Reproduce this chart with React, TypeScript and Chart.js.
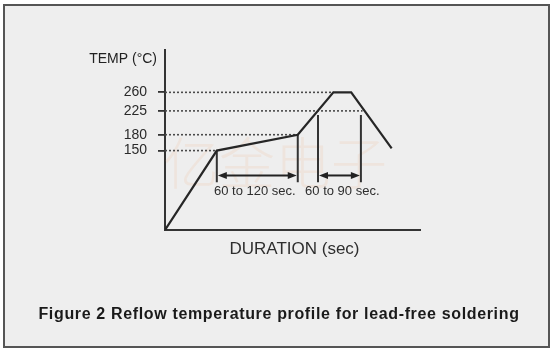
import React, { useEffect, useRef } from "react";
import { Chart, registerables } from "chart.js";

Chart.register(...registerables);

// Reflow profile (time in sec, temperature in °C)
const profileTime = [0, 64, 164, 208, 230, 280];
const profileTemp = [0, 150, 180, 260, 260, 154];

// Y tick labels and dotted reference lines
const yTicks = [150, 180, 225, 260];
const dottedEnds = [64, 164, 244, 208];

// Vertical marker lines
const markerTimes = [64, 164, 189, 242];
const markerTops = [150, 180, 217, 217];
const markerBottom = 90;

// Duration spans
const spanLabels = ["60 to 120 sec.", "60 to 90 sec."];
const spanFrom = [64, 189];
const spanTo = [164, 242];
const arrowTemp = 103;
const labelTimes = [111, 219];
const labelTemp = 72;

const yAxisTitle = "TEMP (°C)";
const xAxisTitle = "DURATION (sec)";
const caption = "Figure 2 Reflow temperature profile for lead-free soldering";
const watermark = "亿金电子";

const FONT = "'Liberation Sans', Arial, Helvetica, sans-serif";

export default function App() {
  const ref = useRef<HTMLCanvasElement | null>(null);

  useEffect(() => {
    document.body.style.margin = "0";
    const canvas = ref.current;
    if (!canvas) return;

    const datasets: any[] = [];
    datasets.push({
      label: "profile",
      data: profileTime.map((t, i) => ({ x: t, y: profileTemp[i] })),
      borderColor: "#262626",
      borderWidth: 2.2,
      pointRadius: 0,
      tension: 0,
      order: 0,
    });
    yTicks.forEach((v, i) => {
      datasets.push({
        label: "ref" + v,
        data: [
          { x: 0, y: v },
          { x: dottedEnds[i], y: v },
        ],
        borderColor: "#4a4a4a",
        borderWidth: 1.6,
        borderDash: [2, 2],
        pointRadius: 0,
        order: 2,
      });
    });
    markerTimes.forEach((t, i) => {
      datasets.push({
        label: "marker" + i,
        data: [
          { x: t, y: markerTops[i] },
          { x: t, y: markerBottom },
        ],
        borderColor: "#333",
        borderWidth: 2,
        pointRadius: 0,
        order: 1,
      });
    });

    const annot = {
      id: "annot",
      beforeDatasetsDraw(chart: any) {
        const ctx = chart.ctx;
        const xs = chart.scales.x;
        const ys = chart.scales.y;
        ctx.save();
        ctx.fillStyle = "rgba(238,170,120,0.14)";
        ctx.font = "300 56px 'Noto Sans CJK SC', sans-serif";
        ctx.textAlign = "center";
        ctx.textBaseline = "middle";
        ctx.fillText(watermark, xs.getPixelForValue(136), ys.getPixelForValue(128));
        ctx.restore();
      },
      afterDatasetsDraw(chart: any) {
        const ctx = chart.ctx;
        const xs = chart.scales.x;
        const ys = chart.scales.y;
        ctx.save();
        // arrows
        ctx.strokeStyle = "#222";
        ctx.fillStyle = "#222";
        ctx.lineWidth = 2;
        const y = ys.getPixelForValue(arrowTemp);
        spanFrom.forEach((f, i) => {
          const x1 = xs.getPixelForValue(f) + 1;
          const x2 = xs.getPixelForValue(spanTo[i]) - 1;
          ctx.beginPath();
          ctx.moveTo(x1 + 6, y);
          ctx.lineTo(x2 - 6, y);
          ctx.stroke();
          ctx.beginPath();
          ctx.moveTo(x1, y);
          ctx.lineTo(x1 + 9, y - 3.5);
          ctx.lineTo(x1 + 9, y + 3.5);
          ctx.closePath();
          ctx.fill();
          ctx.beginPath();
          ctx.moveTo(x2, y);
          ctx.lineTo(x2 - 9, y - 3.5);
          ctx.lineTo(x2 - 9, y + 3.5);
          ctx.closePath();
          ctx.fill();
        });
        // span labels
        ctx.fillStyle = "#2e2e2e";
        ctx.font = `13px ${FONT}`;
        ctx.textAlign = "center";
        ctx.textBaseline = "middle";
        spanLabels.forEach((s, i) => {
          ctx.fillText(s, xs.getPixelForValue(labelTimes[i]), ys.getPixelForValue(labelTemp));
        });
        // axis titles
        ctx.font = `14px ${FONT}`;
        ctx.textAlign = "right";
        ctx.fillStyle = "#222";
        ctx.fillText(yAxisTitle, xs.left - 8, ys.top + 9);
        ctx.font = `17px ${FONT}`;
        ctx.textAlign = "center";
        ctx.fillStyle = "#2e2e2e";
        ctx.fillText(xAxisTitle, (xs.left + xs.right) / 2 + 2, ys.bottom + 19);
        // caption
        ctx.font = `bold 16px ${FONT}`;
        ctx.fillStyle = "#1a1a1a";
        (ctx as any).letterSpacing = "0.65px";
        ctx.fillText(caption, 279, 315);
        ctx.restore();
      },
    };

    const chart = new Chart(canvas, {
      type: "line",
      data: { datasets },
      options: {
        animation: false,
        responsive: false,
        maintainAspectRatio: false,
        layout: { padding: { left: 0, top: 50, right: 140, bottom: 126 } },
        plugins: {
          legend: { display: false },
          tooltip: { enabled: false },
          title: { display: false },
        },
        scales: {
          x: {
            type: "linear",
            min: 0,
            max: 315,
            ticks: { display: false },
            grid: { display: false },
            border: { display: true, color: "#333", width: 2 },
            afterFit: (s: any) => {
              s.height = 0;
            },
          },
          y: {
            type: "linear",
            min: 0,
            max: 340,
            afterBuildTicks: (s: any) => {
              s.ticks = yTicks.map((v) => ({ value: v }));
            },
            ticks: {
              color: "#2a2a2a",
              font: { family: FONT, size: 14 },
              padding: 11,
            },
            grid: {
              display: true,
              drawOnChartArea: false,
              drawTicks: true,
              tickLength: 7,
              color: "#333",
              lineWidth: 1.8,
            },
            border: { display: true, color: "#333", width: 2 },
            afterFit: (s: any) => {
              s.width = 165;
            },
          },
        },
      },
      plugins: [annot],
    });

    return () => chart.destroy();
  }, []);

  return (
    <div style={{ position: "relative", width: 560, height: 356, background: "#fff" }}>
      <div
        style={{
          position: "absolute",
          left: 3,
          top: 4,
          width: 547,
          height: 344,
          border: "2px solid #555",
          background: "#eeeeee",
          boxSizing: "border-box",
        }}
      />
      <canvas
        ref={ref}
        width={560}
        height={356}
        style={{ position: "absolute", left: 0, top: 0, width: 560, height: 356 }}
      />
    </div>
  );
}
